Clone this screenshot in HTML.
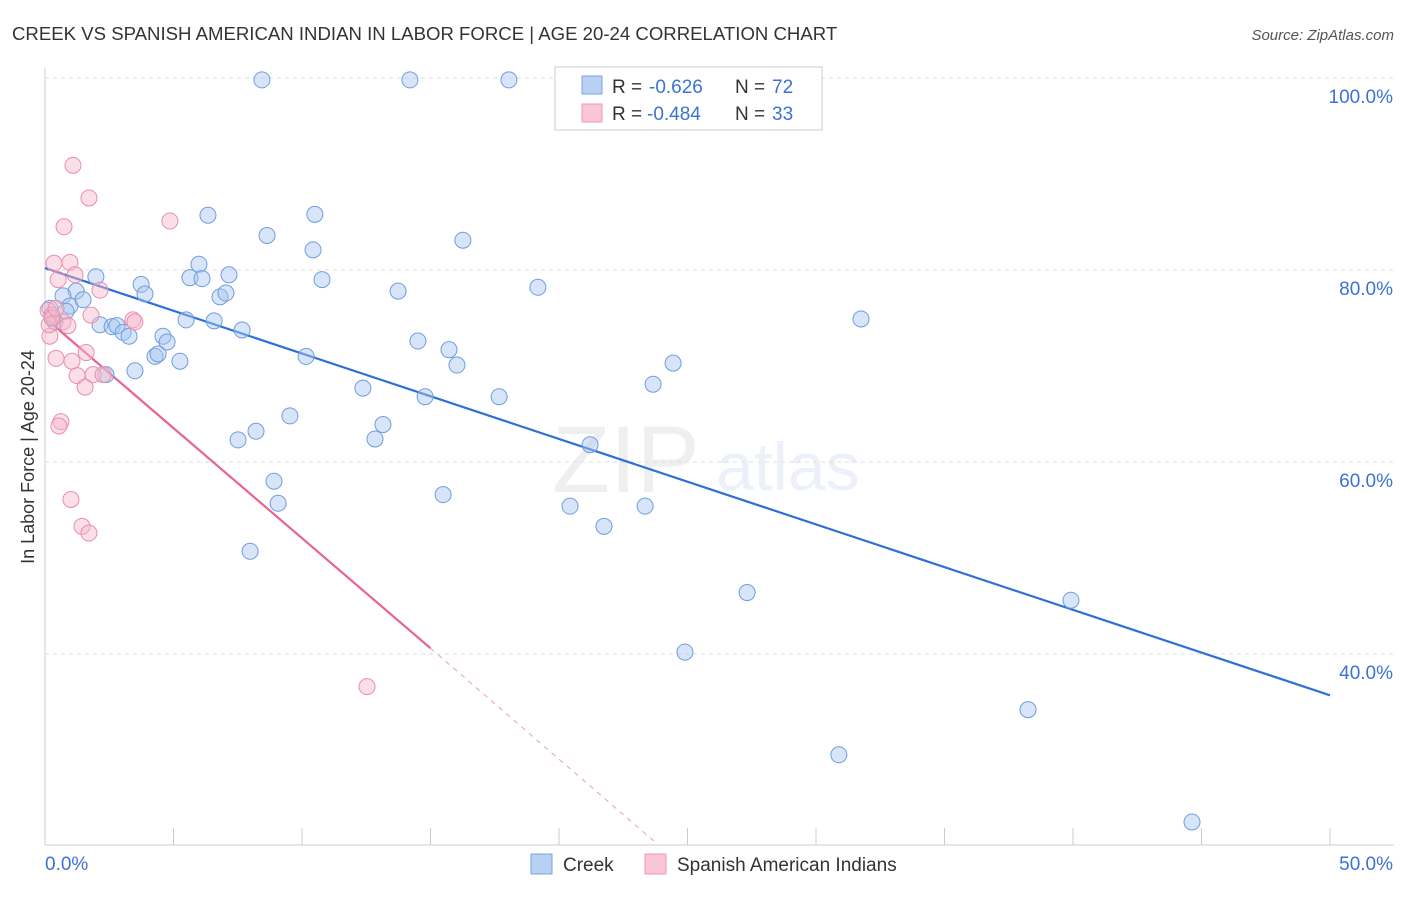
<!DOCTYPE html>
<html><head><meta charset="utf-8"><style>
body{margin:0;background:#fff;font-family:"Liberation Sans",sans-serif;}
svg text{font-family:"Liberation Sans",sans-serif;}
</style></head><body>
<svg id="c" width="1406" height="892" xmlns="http://www.w3.org/2000/svg">
<text x="12" y="40" font-size="18.6" fill="#333">CREEK VS SPANISH AMERICAN INDIAN IN LABOR FORCE | AGE 20-24 CORRELATION CHART</text>
<text x="1394" y="40" font-size="15" fill="#555" font-style="italic" text-anchor="end">Source: ZipAtlas.com</text>
<g opacity="0.13">
<text x="552" y="492" font-size="95" fill="#888" font-family="Liberation Serif">ZIP</text>
<text x="716" y="490" font-size="68" fill="#6a95d8">atlas</text>
</g>
<g id="grid"></g><g id="axes"></g><g id="lines"></g><g id="pts"></g>
<text transform="translate(34,457) rotate(-90)" font-size="18" fill="#333" text-anchor="middle">In Labor Force | Age 20-24</text>
<g>
<rect x="555" y="67" width="267" height="63" fill="#fff" stroke="#ccc"/>
<rect x="582" y="76" width="20" height="18" fill="#b8d0f4" stroke="#7aa3e0"/>
<rect x="582" y="104" width="20" height="18" fill="#f9c6d6" stroke="#ec9ab4"/>
<g font-size="19">
<text x="612" y="93" fill="#333">R =</text><text x="649" y="93" fill="#3b72d4">-0.626</text>
<text x="735" y="93" fill="#333">N =</text><text x="772" y="93" fill="#3b72d4">72</text></g>
<g font-size="19">
<text x="612" y="120" fill="#333">R =</text><text x="647" y="120" fill="#3b72d4">-0.484</text>
<text x="735" y="120" fill="#333">N =</text><text x="772" y="120" fill="#3b72d4">33</text></g>
</g>
<g>
<rect x="531" y="854" width="21" height="20" fill="#b8d0f4" stroke="#7aa3e0"/>
<text x="563" y="871" font-size="19" fill="#333">Creek</text>
<rect x="645" y="854" width="21" height="20" fill="#f9c6d6" stroke="#ec9ab4"/>
<text x="677" y="871" font-size="19" fill="#333">Spanish American Indians</text>
</g>
</svg>
<script>
const creekX=[8.44,14.2,18.05,6.34,10.5,8.64,16.26,10.43,1.98,3.74,5.64,5.99,6.11,7.16,10.78,3.89,6.81,7.04,13.74,19.18,1.21,0.70,0.97,1.48,0.82,0.19,0.31,0.39,2.14,2.61,2.80,3.04,3.27,5.49,6.58,7.67,4.59,4.75,4.28,4.40,5.25,3.50,2.37,10.16,14.51,15.72,16.03,12.37,14.79,17.67,23.66,24.44,31.75,9.53,13.15,8.21,7.51,12.84,21.21,8.91,9.07,15.49,20.43,21.75,23.35,7.98,27.32,24.9,39.92,38.25,30.89,44.63];
const creekY=[99.8,99.8,99.8,85.7,85.8,83.6,83.1,82.1,79.3,78.5,79.2,80.6,79.1,79.5,79.0,77.5,77.2,77.6,77.8,78.2,77.8,77.3,76.25,76.9,75.7,76.0,75.0,74.6,74.3,74.1,74.2,73.5,73.1,74.8,74.7,73.75,73.1,72.5,71.0,71.25,70.5,69.5,69.1,71.0,72.6,71.7,70.1,67.7,66.8,66.8,68.1,70.3,74.9,64.8,63.9,63.2,62.3,62.4,61.8,58.0,55.7,56.6,55.4,53.3,55.4,50.7,46.4,40.2,45.6,34.2,29.5,22.5];
const spanX=[1.09,1.71,4.86,0.74,0.35,0.97,1.17,0.51,2.14,0.12,0.27,0.70,0.89,1.79,3.42,3.50,0.19,0.43,1.60,1.05,1.25,1.56,1.87,2.26,0.62,0.54,1.01,1.44,1.71,12.53,0.16,0.27,0.43];
const spanY=[90.9,87.5,85.1,84.5,80.7,80.8,79.5,79.0,77.9,75.8,75.3,74.6,74.2,75.3,74.8,74.6,73.1,70.8,71.4,70.5,69.0,67.8,69.1,69.1,64.2,63.75,56.1,53.3,52.6,36.6,74.3,75.0,76.0];
const creekTrend=[[0,80.2],[50,35.7]];
const spanTrend=[[0,75.0],[15,40.6]];
const spanTrendExt=[[15,40.6],[23.7,20.5]];
const yTicks=[100,80,60,40];
const yTickLabels=["100.0%","80.0%","60.0%","40.0%"];
const xTicks=[0,5,10,15,20,25,30,35,40,45,50];
const NS="http://www.w3.org/2000/svg";
const sx=v=>45+v*25.7, sy=v=>78+(100-v)*9.6;
function mk(p,t,a){const e=document.createElementNS(NS,t);for(const k in a)e.setAttribute(k,a[k]);document.getElementById(p).appendChild(e);return e;}
yTicks.forEach((v,i)=>{
 const g=mk('grid','line',{x1:45,x2:1394,y1:sy(v),y2:sy(v),stroke:'#ddd','stroke-dasharray':'4,4'});
 
 
 const t=mk('grid','text',{x:1393,y:sy(v)+25,'font-size':19,fill:'#3b72d4','text-anchor':'end'});
 t.textContent=yTickLabels[i];
 
 
});
let a=mk('axes','line',{x1:45,x2:45,y1:68,y2:845,stroke:'#ccc'});


a=mk('axes','line',{x1:45,x2:1394,y1:845,y2:845,stroke:'#ccc'});


xTicks.forEach(v=>{const t=mk('axes','line',{x1:sx(v),x2:sx(v),y1:828,y2:845,stroke:'#ccc'});
 
 });
let l=mk('axes','text',{x:45,y:870,'font-size':19,fill:'#3b72d4'});l.textContent='0.0%';


l=mk('axes','text',{x:1393,y:870,'font-size':19,fill:'#3b72d4','text-anchor':'end'});l.textContent='50.0%';


function pts(X,Y,f,s,n){X.forEach((x,i)=>{const c=mk('pts','circle',{cx:sx(x),cy:sy(Y[i]),r:8,fill:f,'fill-opacity':0.45,stroke:s,'stroke-width':1});
 
 });}
pts(creekX,creekY,'#a9c6f0','#6e9de0','creek-point');
pts(spanX,spanY,'#f7b8cc','#ea8eab','spanish-point');
function ln(d,c,w,da,n){const e=mk('lines','line',{x1:sx(d[0][0]),y1:sy(d[0][1]),x2:sx(d[1][0]),y2:sy(d[1][1]),stroke:c,'stroke-width':w});if(da)e.setAttribute('stroke-dasharray',da);
 
 }
ln(creekTrend,'#2f6fd6',2.2,null,'creek-trendline');
ln(spanTrend,'#e8648e',2.2,null,'spanish-trendline');
ln(spanTrendExt,'#e8a0b6',1,'5,5','spanish-trendline-extension');
</script>
</body></html>
